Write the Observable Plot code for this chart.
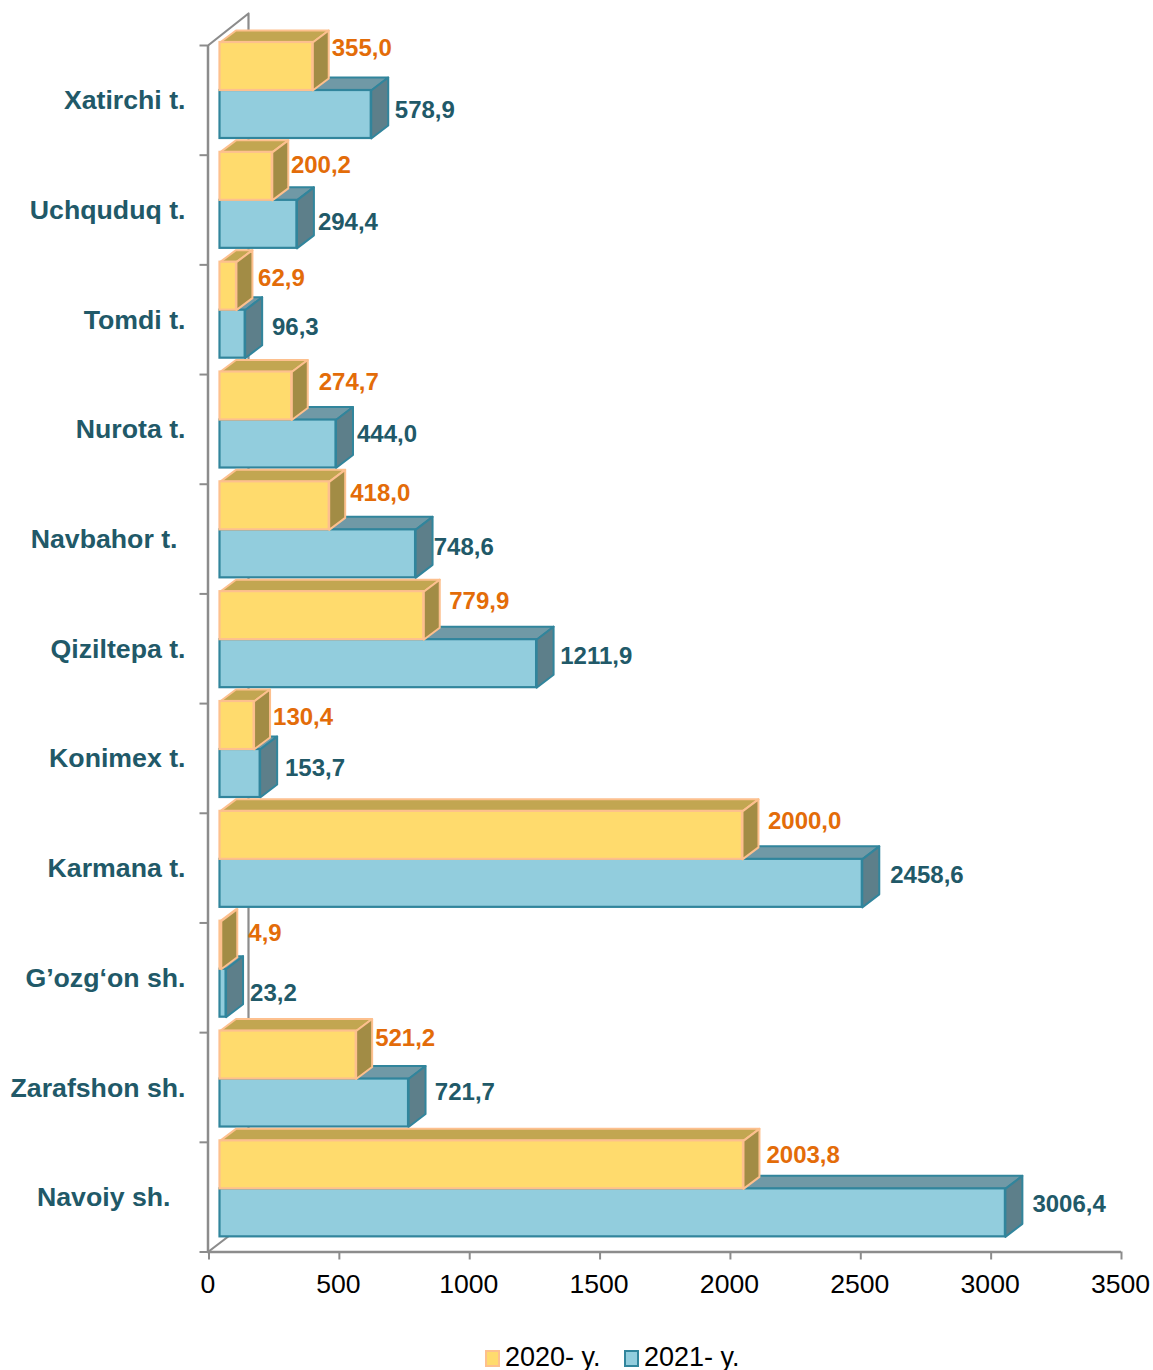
<!DOCTYPE html>
<html><head><meta charset="utf-8">
<script src="https://cdn.jsdelivr.net/npm/d3@7"></script>
<script src="https://cdn.jsdelivr.net/npm/@observablehq/plot@0.6"></script>
<style>
html,body{margin:0;padding:0;background:#fff;overflow:hidden}
svg{display:block}
#legend{position:relative;height:35px;font:27px "Liberation Sans",Arial,sans-serif;color:#000}
#legend span{position:absolute;white-space:pre;top:7px;line-height:30px}
#legend i{position:absolute;top:15px;width:11px;height:13px;border-width:2px;border-style:solid}
</style></head><body>
<div id="chart"></div>
<div id="legend">
<i style="left:485px;background:#FFDB6D;border-color:#FDC08E"></i><span style="left:505px">2020- y.</span>
<i style="left:624px;background:#92CDDD;border-color:#31859C"></i><span style="left:644px">2021- y.</span>
</div>
<script>
// ---- data ----
const categories = ["Xatirchi t.","Uchquduq t.","Tomdi t.","Nurota t.","Navbahor t.","Qiziltepa t.","Konimex t.","Karmana t.","G’ozg‘on sh.","Zarafshon sh.","Navoiy sh."];
const values2020 = [355.0,200.2,62.9,274.7,418.0,779.9,130.4,2000.0,4.9,521.2,2003.8];
const values2021 = [578.9,294.4,96.3,444.0,748.6,1211.9,153.7,2458.6,23.2,721.7,3006.4];
const xTicks = [0,500,1000,1500,2000,2500,3000,3500];

// ---- label nudges (pixels) ----
const gapX2020 = [3,2.6,5.6,11,5,9.5,3,9.5,11,3,7];
const gapY2020 = [5.8,13,16.1,10.3,11.5,9.6,15.8,10,12.2,7.3,14.5];
const gapX2021 = [6.6,4,9.8,4,1.2,6.6,7.8,11,7,9.3,10];
const gapY2021 = [67.8,70,65.1,62.3,65.5,64.6,66.8,64,72.2,61.3,63.5];
const catNudge = [0,0,0,0,-8,0,0,0,0,0,-15];

// ---- geometry ----
const W = 1153, H = 1335;
const X0 = 208.5, X1 = 1121, Y0 = 45, Y1 = 1251.5;
const kx = (X1 - X0) / 3500, ky = (Y1 - Y0) / 11;
const px = p => p / kx, py = p => p / ky;      // pixels -> data units
const barH = 48, insetX = 11, lenK = 1.002;
const comma = v => v.toFixed(1).replace(".", ",");
const rowTop = i => i * 1.0014 - py(3);
const front = v => v * lenK + px(insetX);

function faces(values, slot, ddx, ddy) {
  const tops = [], sides = [], fronts = [];
  values.forEach((v, i) => {
    const y1 = rowTop(i) + py(barH * slot), y2 = y1 + py(barH);
    const x1 = px(insetX), x2 = front(v), ox = px(ddx), oy = py(ddy);
    fronts.push({x1, x2, y1, y2});
    [[x1,y1],[x1+ox,y1-oy],[x2+ox,y1-oy],[x2,y1]].forEach(([x,y]) => tops.push({id:i,x,y}));
    [[x2,y1],[x2+ox,y1-oy],[x2+ox,y2-oy],[x2,y2]].forEach(([x,y]) => sides.push({id:i,x,y}));
  });
  return {tops, sides, fronts};
}
function series(values, slot, ddx, ddy, fTop, fSide, fFront, stroke) {
  const f = faces(values, slot, ddx, ddy);
  const common = {x:"x", y:"y", z:"id", curve:"linear-closed", stroke, strokeWidth:2, strokeLinejoin:"round"};
  return [
    Plot.line(f.tops, {...common, fill:fTop}),
    Plot.line(f.sides, {...common, fill:fSide}),
    Plot.rect(f.fronts, {x1:"x1", x2:"x2", y1:"y1", y2:"y2", fill:fFront, stroke, strokeWidth:2.2, inset:0})
  ];
}
function labels(values, ddx, gx, gy, fill) {
  return Plot.text(values.map((v,i) => ({v, i})), {
    x: d => front(d.v) + px(ddx + gx[d.i]),
    y: d => rowTop(d.i) + py(gy[d.i]),
    text: d => comma(d.v),
    textAnchor:"start", fill, fontSize:24, fontWeight:"bold", lineAnchor:"middle"
  });
}

const wallColor = "#8C8C8C";
const wall = [
  {x:-px(1), y:0},
  {x:px(39.5), y:-py(32)},
  {x:px(39.5), y:11 - py(31)},
  {x:-px(1), y:11}
];

const plot = Plot.plot({
  width:W, height:H,
  marginLeft:X0, marginRight:W-X1, marginTop:Y0, marginBottom:H-Y1,
  style:{fontFamily:"'Liberation Sans',Arial,sans-serif", background:"transparent", overflow:"visible"},
  x:{domain:[0,3500], range:[X0,X1]},
  y:{domain:[0,11], range:[Y0,Y1]},
  marks:[
    Plot.line(wall, {x:"x", y:"y", stroke:wallColor, strokeWidth:2.2}),
    Plot.ruleX([-px(1)], {y1:0, y2:11, stroke:wallColor, strokeWidth:2.5}),
    Plot.ruleY([11], {x1:-px(1), x2:3500, stroke:wallColor, strokeWidth:2.5}),
    Plot.axisX({ticks:xTicks, tickFormat:()=>"", tickSize:8, stroke:wallColor, strokeWidth:2, label:null, anchor:"bottom"}),
    Plot.text(xTicks, {x:d=>d, y:11, dy:32, dx:-1, text:d=>String(d), fontSize:26.6, fill:"#000", lineAnchor:"middle"}),
    Plot.axisY({ticks:d3.range(12), tickFormat:()=>"", tickSize:8, dx:-1, stroke:wallColor, strokeWidth:2, label:null, anchor:"left"}),
    ...series(values2021, 1, 17, 13, "#7099A6", "#5D7F8A", "#92CDDD", "#31859C"),
    ...series(values2020, 0, 16, 12, "#C2A651", "#A28C45", "#FFDB6D", "#FDC08E"),
    labels(values2020, 16, gapX2020, gapY2020, "#E36C09"),
    labels(values2021, 17, gapX2021, gapY2021, "#215968"),
    Plot.text(categories.map((c,i)=>({c,i})), {
      x:d => px(-23.5 + catNudge[d.i]), y:d => d.i + 0.5 + py(0.5), text:"c",
      textAnchor:"end", fontSize:26.7, fontWeight:"bold", fill:"#215968", lineAnchor:"middle"
    })
  ]
});
document.getElementById("chart").appendChild(plot);
</script>
</body></html>
